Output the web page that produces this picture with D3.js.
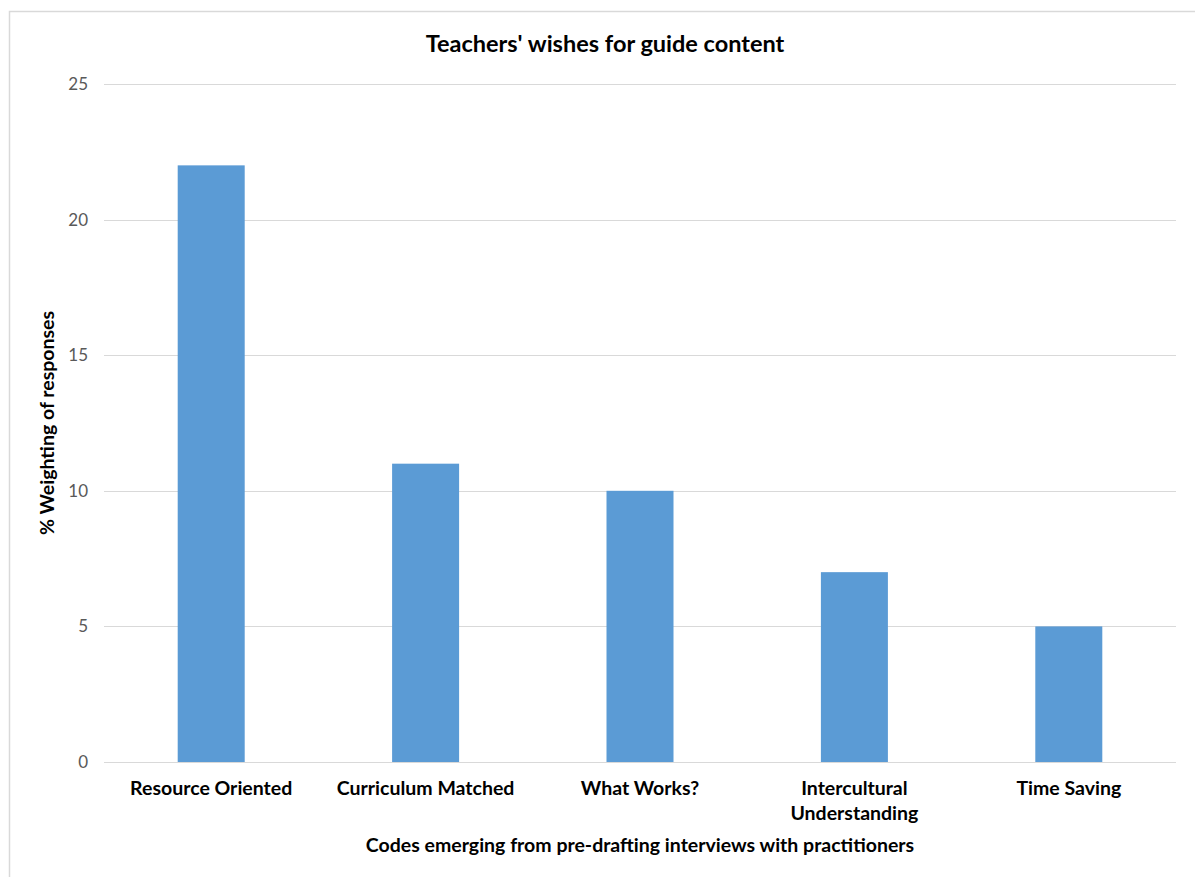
<!DOCTYPE html>
<html>
<head>
<meta charset="UTF-8">
<script src="https://d3js.org/d3.v7.min.js"></script>
<style>
  body { margin: 0; background: #fff; }
  svg text { font-family: Lato, "Open Sans", sans-serif; }
</style>
</head>
<body>
<svg></svg>
<script>
// data
var categorias = [["Resource Oriented"], ["Curriculum Matched"], ["What Works?"], ["Intercultural", "Understanding"], ["Time Saving"]];
var valores = [22, 11, 10, 7, 5];
var ticksY = [0, 5, 10, 15, 20, 25];

var width = 1195, height = 877;
var margin = {left: 104, right: 19, top: 84, bottom: 115};

var svg = d3.select("svg").attr("width", width).attr("height", height);

// marco del grafico
svg.append("rect")
  .attr("x", 9.5).attr("y", 11.5)
  .attr("width", width + 20).attr("height", height + 20)
  .attr("fill", "none").attr("stroke", "#d9d9d9").attr("stroke-width", 1.5);

var nombres = categorias.map(function(c) { return c.join(" "); });

var x = d3.scaleBand()
  .domain(nombres)
  .range([margin.left, width - margin.right])
  .paddingInner(0.6875)
  .paddingOuter(0.34375);

var y = d3.scaleLinear()
  .domain([0, 25])
  .range([height - margin.bottom, margin.top]);

// grilla
svg.append("g")
  .selectAll("line")
  .data(ticksY)
  .enter().append("line")
  .attr("x1", margin.left).attr("x2", width - margin.right)
  .attr("y1", d => Math.round(y(d)) + 0.5).attr("y2", d => Math.round(y(d)) + 0.5)
  .attr("stroke", "#d9d9d9").attr("stroke-width", 1);

// barras
svg.append("g")
  .selectAll("rect")
  .data(valores)
  .enter().append("rect")
  .attr("x", (d, i) => x(nombres[i]))
  .attr("width", x.bandwidth())
  .attr("y", d => y(d))
  .attr("height", d => y(0) - y(d))
  .attr("fill", "#5b9bd5");

// eje y
var ejeY = svg.append("g")
  .attr("transform", "translate(" + (margin.left - 16) + ",0)")
  .call(d3.axisLeft(y).tickValues(ticksY).tickSize(0).tickPadding(0));
ejeY.select(".domain").remove();
ejeY.selectAll("text")
  .attr("fill", "#595959")
  .style("font-size", "17px")
  .style("font-family", "Lato, 'Open Sans', sans-serif");

// eje x (etiquetas en varias lineas)
var etiquetas = svg.append("g")
  .selectAll("text")
  .data(categorias)
  .enter().append("text")
  .attr("x", (d, i) => x(nombres[i]) + x.bandwidth() / 2)
  .attr("y", 795)
  .attr("text-anchor", "middle")
  .attr("fill", "#000")
  .style("font-size", "19.5px")
  .style("font-weight", "bold");
etiquetas.each(function(d) {
  var t = d3.select(this);
  var cx = t.attr("x");
  d.forEach(function(linea, j) {
    t.append("tspan").attr("x", cx).attr("dy", j === 0 ? 0 : 25).text(linea);
  });
});

// titulos
svg.append("text")
  .attr("x", 605).attr("y", 52)
  .attr("text-anchor", "middle")
  .style("font-size", "23.5px").style("font-weight", "bold")
  .text("Teachers' wishes for guide content");

svg.append("text")
  .attr("x", 640).attr("y", 852)
  .attr("text-anchor", "middle")
  .style("font-size", "19.5px").style("font-weight", "bold")
  .text("Codes emerging from pre-drafting interviews with practitioners");

svg.append("text")
  .attr("transform", "translate(54," + ((margin.top + height - margin.bottom) / 2) + ") rotate(-90)")
  .attr("text-anchor", "middle")
  .style("font-size", "19.5px").style("font-weight", "bold")
  .text("% Weighting of responses");
</script>
</body>
</html>
